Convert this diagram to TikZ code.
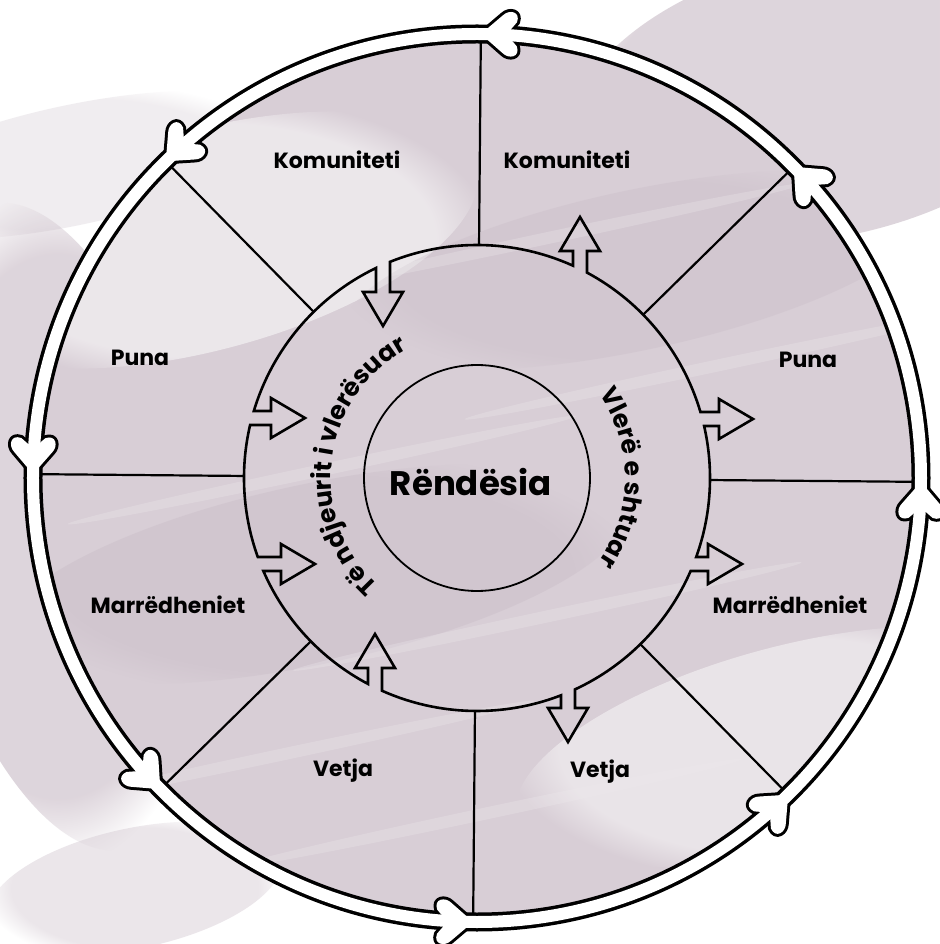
\documentclass[tikz,border=0pt]{standalone}
\usepackage{fontspec}
\setmainfont{Poppins}
\usetikzlibrary{decorations.text, fadings}

\definecolor{wash}{RGB}{216,206,214}
\definecolor{washdark}{RGB}{198,185,196}
\definecolor{washlight}{RGB}{238,234,237}

\begin{document}
\begin{tikzpicture}[x=1pt, y=1pt,
    lbl/.style={font=\bfseries\fontsize{22}{22}\selectfont},
    ringline/.style={line width=2.6pt, line join=miter},
    spoke/.style={line width=2.2pt},
    blur/.style={path fading=circle with fuzzy edge 20 percent}]
  \useasboundingbox (-477,-466) rectangle (462,478);
  \fill[white] (-477,-466) rectangle (462,478);

  % wash outside the ring
  \fill[wash, blur, opacity=0.85, rotate=12] (-420,40) ellipse (140 and 330);
  \fill[wash, blur, opacity=0.85, rotate=12] (420,300) ellipse (260 and 140);
  \fill[washdark, blur, opacity=0.25, rotate=12] (-330,390) ellipse (220 and 60);
  \fill[wash, blur, opacity=0.5, rotate=12] (-420,-330) ellipse (150 and 60);

  % wash inside the ring
  \fill[wash] (0,0) circle (444);
  \begin{scope}
    \clip (0,0) circle (444);
    \fill[washlight, blur, opacity=0.9, rotate=15] (-200,300) ellipse (280 and 110);
    \fill[washlight, blur, opacity=0.8, rotate=15] (230,-340) ellipse (280 and 100);
    \fill[washdark, blur, opacity=0.35, rotate=12] (-180,-60) ellipse (320 and 90);
    \fill[washdark, blur, opacity=0.3, rotate=12] (200,170) ellipse (300 and 80);
    \foreach \sx/\sy in {-150/40, 40/-150, 120/220, -250/-230, 260/60, -60/-330}
      \fill[washlight, opacity=0.3, rotate=12] (\sx,\sy) ellipse (260 and 6);
  \end{scope}

  % spokes
  \foreach \a in {89.5,134.5,...,404.5}
    \draw[spoke] (\a:233) -- (\a:440);

  % outer band with its heads
  \draw[line width=19pt] (0,0) circle (444);
  \foreach \a in {89.5,134.5,...,404.5}
    \draw[line width=6pt, line join=round, shift={(\a:444)}, rotate=\a+90]
      (0,0) -- (-22,19) .. controls (-28,25) and (-40,23) .. (-36,12)
      -- (-30,5) -- (-30,-5) -- (-36,-12) .. controls (-40,-23) and (-28,-25) .. (-22,-19) -- cycle;
  \draw[white, line width=12pt] (0,0) circle (444);
  \foreach \a in {89.5,134.5,...,404.5}
    \fill[white, shift={(\a:444)}, rotate=\a+90]
      (0,0) -- (-22,19) .. controls (-28,25) and (-40,23) .. (-36,12)
      -- (-30,5) -- (-30,-5) -- (-36,-12) .. controls (-40,-23) and (-28,-25) .. (-22,-19) -- cycle;

  % middle ring with hollow arrows
  \draw[ringline] (16.46:233) arc[start angle=16.46, end angle=61.82, radius=233]
    -- (110,227) -- (123,227) -- (103,261) -- (83,227) -- (96,227) -- (96,212.30)
    arc[start angle=65.67, end angle=111.93, radius=233]
    -- (-87,186) -- (-74,186) -- (-94,152) -- (-114,186) -- (-101,186) -- (-101,209.97)
    arc[start angle=115.69, end angle=163.28, radius=233]
    -- (-206,67) -- (-206,80) -- (-172,60) -- (-206,40) -- (-206,53) -- (-226.89,53)
    arc[start angle=166.85, end angle=199.82, radius=233]
    -- (-196,-79) -- (-196,-66) -- (-162,-86) -- (-196,-106) -- (-196,-93) -- (-213.64,-93)
    arc[start angle=203.53, end angle=242.11, radius=233]
    -- (-109,-190) -- (-122,-190) -- (-102,-156) -- (-82,-190) -- (-95,-190) -- (-95,-212.75)
    arc[start angle=245.94, end angle=291.13, radius=233]
    -- (84,-230) -- (71,-230) -- (91,-264) -- (111,-230) -- (98,-230) -- (98,-211.39)
    arc[start angle=294.87, end angle=336.47, radius=233]
    -- (231,-93) -- (231,-106) -- (265,-86) -- (231,-66) -- (231,-79) -- (219.20,-79)
    arc[start angle=340.18, end angle=372.90, radius=233]
    -- (242,52) -- (242,39) -- (276,59) -- (242,79) -- (242,66) -- cycle;

  % inner circle
  \draw[line width=1.8pt] (0,0) circle (113);
  \node[font=\bfseries\fontsize{34}{34}\selectfont] (core) at (-6,-4) {Rëndësia};

  % texts round the inner circle
  \path[decorate, decoration={text along path, text align=center,
      text={|\bfseries\fontsize{25}{25}\selectfont|Të ndjeurit i vlerësuar}}]
    (236:146) arc[start angle=236, end angle=110, radius=146];
  \path[decorate, decoration={text along path, text align=center,
      text={|\bfseries\fontsize{25}{25}\selectfont|Vlerë e shtuar}}]
    (55:148) arc[start angle=55, end angle=-55, radius=148];

  % labels
  \node[lbl] (komL) at (-140,318) {Komuniteti};
  \node[lbl] (komR) at (90,318) {Komuniteti};
  \node[lbl] (punaL) at (-337,120) {Puna};
  \node[lbl] (punaR) at (331,118) {Puna};
  \node[lbl] (marrL) at (-309,-127) {Marrëdheniet};
  \node[lbl] (marrR) at (313,-127) {Marrëdheniet};
  \node[lbl] (vetL) at (-134,-293) {Vetja};
  \node[lbl] (vetR) at (123,-294) {Vetja};
\end{tikzpicture}
\end{document}
